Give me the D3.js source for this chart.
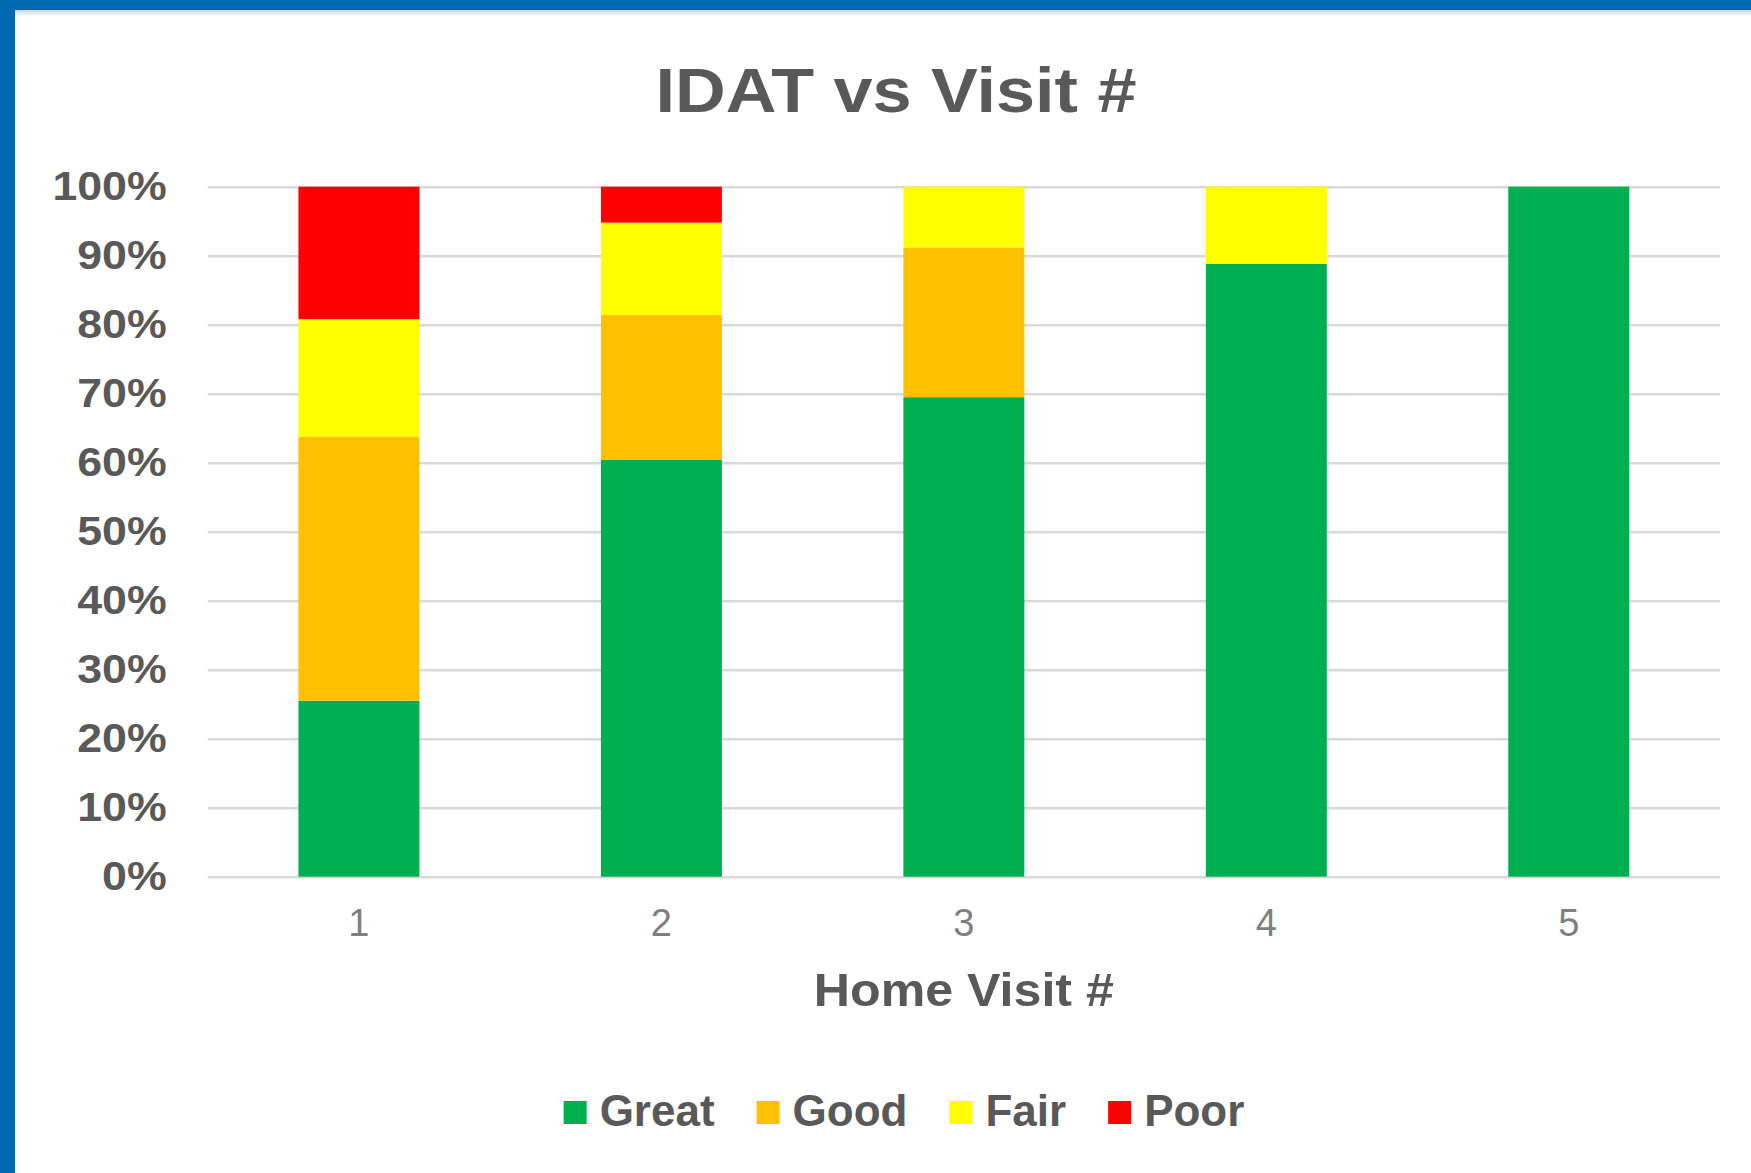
<!DOCTYPE html>
<meta charset="utf-8">
<style>
body { margin: 0; background: #fff; }
svg { display: block; }
.axis text { font-family: "Liberation Sans", Arial, sans-serif; fill: #595959; }
.y-axis text { font-size: 41px; font-weight: bold; }
.x-axis text { font-family: "Liberation Sans Narrow", "Liberation Sans", Arial, sans-serif; font-size: 38px; fill: #7f7f7f; }
.y-axis line { stroke: #d9d9d9; stroke-width: 2.5px; }
.axis path { display: none; }
.lbl { font-family: "Liberation Sans", Arial, sans-serif; font-weight: bold; fill: #595959; }
</style>
<body>
<div id="chart"></div>
<script src="https://cdn.jsdelivr.net/npm/d3@7"></script>
<script>
// percent of visits per rating
var visits = ["1", "2", "3", "4", "5"];
var great = [25.5, 60.4, 69.5, 88.8, 100];
var good  = [38.3, 21.0, 21.7, 0, 0];
var fair  = [17.0, 13.4, 8.8, 11.2, 0];
var poor  = [19.2, 5.2, 0, 0, 0];
var seriesNames = ["Great", "Good", "Fair", "Poor"];
var seriesColors = ["#00b050", "#ffc000", "#ffff00", "#ff0000"];
var yTicks = [0, 10, 20, 30, 40, 50, 60, 70, 80, 90, 100];

var W = 1751, H = 1173;
var plotL = 207.7, plotR = 1720, plotT = 186.7, plotB = 876.7;

var rows = visits.map(function(v, i) {
  return { visit: v, Great: great[i], Good: good[i], Fair: fair[i], Poor: poor[i] };
});

var svg = d3.select("#chart").append("svg")
  .attr("width", W).attr("height", H);

// blue frame + white card
svg.append("rect").attr("width", W).attr("height", H).attr("fill", "#0068b3");
var defs = svg.append("defs");
var g1 = defs.append("linearGradient").attr("id", "shT").attr("x1", 0).attr("x2", 0).attr("y1", 0).attr("y2", 1);
g1.append("stop").attr("offset", 0).attr("stop-color", "#d0d0d0");
g1.append("stop").attr("offset", 1).attr("stop-color", "#ffffff");
svg.append("rect").attr("x", 15).attr("y", 10).attr("width", W - 15).attr("height", H - 10).attr("fill", "#fff");
svg.append("rect").attr("x", 15).attr("y", 10).attr("width", W - 15).attr("height", 6).attr("fill", "url(#shT)");

var x = d3.scaleBand().domain(visits).range([plotL, plotR])
  .paddingInner(0.6).paddingOuter(0.3);
var y = d3.scaleLinear().domain([0, 100]).range([plotB, plotT]);

// gridlines + y labels
svg.append("g")
  .attr("class", "axis y-axis")
  .attr("transform", "translate(" + plotL + ",0)")
  .call(d3.axisLeft(y).tickValues(yTicks).tickSize(-(plotR - plotL)).tickPadding(41)
    .tickFormat(function(d) { return d + "%"; }));

var stack = d3.stack().keys(seriesNames);
var layers = stack(rows);

svg.append("g").selectAll("g")
  .data(layers)
  .enter().append("g")
  .attr("fill", function(d, i) { return seriesColors[i]; })
  .selectAll("rect")
  .data(function(d) { return d; })
  .enter().append("rect")
  .attr("x", function(d) { return x(d.data.visit); })
  .attr("y", function(d) { return y(d[1]); })
  .attr("width", x.bandwidth())
  .attr("height", function(d) { return y(d[0]) - y(d[1]); });

svg.append("g")
  .attr("class", "axis x-axis")
  .attr("transform", "translate(0," + plotB + ")")
  .call(d3.axisBottom(x).tickSize(0).tickPadding(32));

// stretch the bold labels a little, like the source
svg.selectAll(".y-axis text").each(function() {
  var len = this.getComputedTextLength();
  d3.select(this).attr("textLength", len * 1.09).attr("lengthAdjust", "spacingAndGlyphs");
});

svg.append("text").attr("class", "lbl")
  .attr("x", 896).attr("y", 112)
  .attr("text-anchor", "middle")
  .style("font-size", "63px")
  .attr("textLength", 481).attr("lengthAdjust", "spacingAndGlyphs")
  .text("IDAT vs Visit #");

svg.append("text").attr("class", "lbl")
  .attr("x", (plotL + plotR) / 2).attr("y", 1006)
  .attr("text-anchor", "middle")
  .style("font-size", "47px")
  .attr("textLength", 300).attr("lengthAdjust", "spacingAndGlyphs")
  .text("Home Visit #");

// legend
var legend = svg.append("g");
var items = legend.selectAll("g").data(seriesNames).enter().append("g");
items.append("rect")
  .attr("y", 1101).attr("width", 23).attr("height", 23)
  .attr("fill", function(d, i) { return seriesColors[i]; });
items.append("text").attr("class", "lbl")
  .attr("x", 36).attr("y", 1126)
  .style("font-size", "44px")
  .text(function(d) { return d; });

var cx = 0;
items.each(function() {
  var w = d3.select(this).select("text").node().getComputedTextLength();
  d3.select(this).attr("transform", "translate(" + cx + ",0)");
  cx += 36 + w + 42;
});
var total = cx - 42;
legend.attr("transform", "translate(" + (904 - total / 2) + ",0)");
</script>
</body>
